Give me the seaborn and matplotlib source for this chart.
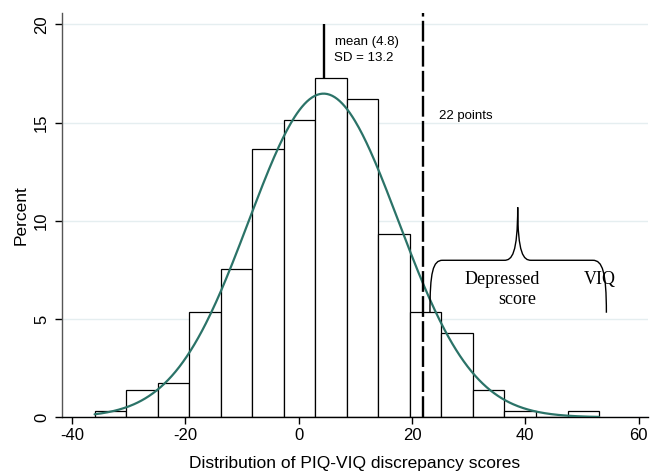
import numpy as np
import pandas as pd
import matplotlib
matplotlib.use("Agg")
import matplotlib.pyplot as plt
from matplotlib.path import Path
from matplotlib.patches import PathPatch
import seaborn as sns

# ---- data ----
bin_edges = [-36.0, -30.44, -24.88, -19.31, -13.75, -8.19, -2.63, 2.94, 8.5,
             14.06, 19.63, 25.19, 30.75, 36.31, 41.88, 47.44, 53.0]
bar_percent = [0.32, 1.39, 1.77, 5.37, 7.53, 13.64, 15.11, 17.25, 16.18,
               9.31, 5.37, 4.30, 1.39, 0.32, 0.0, 0.32]
mean_pos = 4.4          # drawn position of mean line / curve centre
curve_sd = 13.2
curve_area = 545.0      # percent * units under the overlaid normal curve
cutoff = 22
x_ticks = [-40, -20, 0, 20, 40, 60]
y_ticks = [0, 5, 10, 15, 20]
mean_label = ["mean (4.8)", "SD = 13.2"]
cut_label = "22 points"
brace_labels = ["Depressed", "score", "VIQ"]

sns.set_style("white")
plt.rcParams['font.family'] = ['Liberation Sans', 'DejaVu Sans']
plt.rcParams['axes.unicode_minus'] = False
plt.rcParams['text.color'] = 'black'
plt.rcParams['axes.labelcolor'] = 'black'

fig = plt.figure(figsize=(6.56, 4.73), dpi=100)
ax = fig.add_axes([0.0941, 0.1178, 0.8942, 0.8541])

centers = [(a + b) / 2 for a, b in zip(bin_edges[:-1], bin_edges[1:])]
df = pd.DataFrame({"x": centers, "w": bar_percent})

ax.set_axisbelow(True)
ax.yaxis.grid(True, color="#e5eef0", linewidth=1.0)
ax.xaxis.grid(False)

# mean line (under bars)
ax.vlines(mean_pos, 0, 20, color="black", linewidth=1.7, zorder=1)

sns.histplot(data=df, x="x", weights="w", bins=bin_edges, stat="count",
             color="white", edgecolor="black", linewidth=0.9, alpha=1.0,
             ax=ax, zorder=2)

xs = np.linspace(bin_edges[0], bin_edges[-1], 400)
ys = curve_area * np.exp(-0.5 * ((xs - mean_pos) / curve_sd) ** 2) / (curve_sd * np.sqrt(2 * np.pi))
sns.lineplot(x=xs, y=ys, color="#2b7368", linewidth=1.6, ax=ax, zorder=4)

ax.axvline(cutoff, color="black", linewidth=1.7, linestyle=(0, (8.8, 1.8)), zorder=5)

ax.text(6.4, 19.08, mean_label[0], fontsize=9.5, ha="left", va="center")
ax.text(6.25, 18.3, mean_label[1], fontsize=9.5, ha="left", va="center")
ax.text(24.7, 15.35, cut_label, fontsize=9.5, ha="left", va="center")

# curly brace annotation
bx = [23.17, 25.4, 36.3, 38.65, 41.0, 51.9, 54.3]
by_low, by_mid, by_tip = 5.32, 7.99, 10.69
verts = [(bx[0], by_low),
         (bx[0], 7.4), (23.7, by_mid), (bx[1], by_mid),
         (bx[2], by_mid),
         (37.6, by_mid), (bx[3], 8.3), (bx[3], by_tip),
         (bx[3], 8.3), (39.7, by_mid), (bx[4], by_mid),
         (bx[5], by_mid),
         (53.6, by_mid), (bx[6], 7.4), (bx[6], by_low)]
codes = [Path.MOVETO,
         Path.CURVE4, Path.CURVE4, Path.CURVE4,
         Path.LINETO,
         Path.CURVE4, Path.CURVE4, Path.CURVE4,
         Path.CURVE4, Path.CURVE4, Path.CURVE4,
         Path.LINETO,
         Path.CURVE4, Path.CURVE4, Path.CURVE4]
ax.add_patch(PathPatch(Path(verts, codes), facecolor="none", edgecolor="black",
                       linewidth=1.0, zorder=6))
serif = ["Liberation Serif", "DejaVu Serif"]
ax.text(36.0, 6.99, brace_labels[0], fontsize=13, family=serif, ha="center", va="center", zorder=7)
ax.text(38.6, 6.0, brace_labels[1], fontsize=13, family=serif, ha="center", va="center", zorder=7)
ax.text(53.2, 6.99, brace_labels[2], fontsize=13, family=serif, ha="center", va="center", zorder=7)

ax.set_xlim(-41.8, 61.7)
ax.set_ylim(0, 20.56)
ax.set_xticks(x_ticks)
ax.set_xticklabels([str(t) for t in x_ticks])
ax.set_yticks(y_ticks)
ax.set_yticklabels([str(t) for t in y_ticks], rotation=90, va="center")

for s in ["top", "right"]:
    ax.spines[s].set_visible(False)
ax.spines["left"].set_color("#555555")
ax.spines["bottom"].set_color("black")
ax.spines["left"].set_linewidth(1.0)
ax.spines["bottom"].set_linewidth(1.0)
ax.tick_params(axis="both", which="major", direction="out", length=5, width=1.0,
               labelsize=12, colors="black", bottom=True, left=True)
ax.tick_params(axis="x", pad=3)
ax.tick_params(axis="y", pad=4)

ax.set_xlabel("Distribution of PIQ-VIQ discrepancy scores", fontsize=12.5, labelpad=9)
ax.set_ylabel("Percent", fontsize=12.5, labelpad=4)

fig.savefig("out.png", dpi=100)
